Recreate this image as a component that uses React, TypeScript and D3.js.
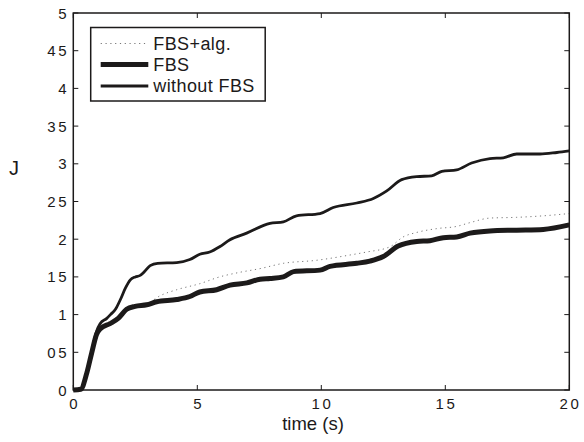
import React from "react";
import * as d3 from "d3";

const xTicks = [0, 5, 10, 15, 20];
const xTickLabels = ["0", "5", "1 0", "1 5", "2 0"];
const yTicks = [0, 0.5, 1, 1.5, 2, 2.5, 3, 3.5, 4, 4.5, 5];
const yTickLabels = ["0", "0 5", "1", "1 5", "2", "2 5", "3", "3 5", "4", "4 5", "5"];

const seriesNames = ["FBS+alg.", "FBS", "without FBS"];

const withoutT = [0, 0.3, 0.54, 0.74, 0.94, 1.08, 1.35, 1.5, 1.7, 1.9, 2.1, 2.3, 2.5, 2.7, 2.9, 3.1, 3.4, 4.17, 4.7, 5.1, 5.5, 5.9, 6.3, 6.99, 7.93, 8.47, 9.0, 9.95, 10.48, 11.43, 12.1, 12.64, 13.24, 13.85, 14.45, 14.86, 15.46, 16.06, 16.8, 17.34, 17.88, 18.82, 19.5, 20];
const withoutJ = [0, 0.01, 0.22, 0.5, 0.78, 0.88, 0.95, 1.0, 1.07, 1.2, 1.35, 1.46, 1.5, 1.52, 1.58, 1.65, 1.68, 1.69, 1.73, 1.8, 1.83, 1.9, 1.99, 2.08, 2.21, 2.23, 2.31, 2.34, 2.42, 2.48, 2.54, 2.64, 2.79, 2.83, 2.84, 2.9, 2.92, 3.01, 3.07, 3.08, 3.13, 3.13, 3.15, 3.17];

const fbsT = [0, 0.3, 0.54, 0.74, 0.94, 1.08, 1.48, 1.81, 2.15, 2.49, 2.96, 3.36, 4.17, 4.7, 5.1, 5.78, 6.32, 7.0, 7.53, 7.93, 8.47, 8.88, 9.95, 10.35, 11.43, 11.96, 12.5, 13.1, 13.85, 14.38, 14.92, 15.46, 16.0, 16.8, 17.88, 18.95, 20];
const fbsJ = [0, 0.01, 0.22, 0.49, 0.74, 0.81, 0.88, 0.95, 1.07, 1.11, 1.13, 1.17, 1.2, 1.24, 1.3, 1.33, 1.39, 1.42, 1.47, 1.48, 1.5, 1.57, 1.59, 1.64, 1.68, 1.71, 1.77, 1.91, 1.97, 1.98, 2.02, 2.03, 2.08, 2.11, 2.12, 2.13, 2.19];

const algT = [0, 0.3, 0.54, 0.74, 0.94, 1.08, 1.48, 1.81, 2.15, 2.49, 2.96, 3.5, 4.17, 5.1, 5.9, 6.7, 7.53, 8.47, 9.8, 11.15, 11.83, 12.77, 13.3, 13.85, 14.65, 15.46, 16.0, 16.8, 17.88, 18.95, 20];
const algJ = [0, 0.01, 0.22, 0.49, 0.74, 0.81, 0.88, 0.95, 1.07, 1.11, 1.14, 1.25, 1.33, 1.41, 1.5, 1.56, 1.61, 1.68, 1.72, 1.79, 1.83, 1.9, 2.03, 2.09, 2.14, 2.17, 2.22, 2.28, 2.29, 2.31, 2.34];

const W = 584;
const H = 442;
const left = 73.3;
const right = 569.3;
const top = 13;
const bottom = 390;
const font = "'Liberation Sans', Arial, Helvetica, sans-serif";
const ink = "#1c1a1a";

export default function App() {
  const x = d3.scaleLinear().domain([0, 20]).range([left, right]);
  const y = d3.scaleLinear().domain([0, 5]).range([bottom, top]);
  const line = (ts: number[], js: number[]) =>
    d3
      .line<number>()
      .x((_, i) => x(ts[i]))
      .y((d) => y(d))
      .curve(d3.curveMonotoneX)(js) || "";

  const legendX = 90.7;
  const legendY = 27.5;
  const legendW = 174.5;
  const legendH = 73.5;
  const rows = [43.5, 64.5, 86];
  const styles = [
    { w: 1, dash: "1.2,3.6", color: "#777" },
    { w: 5, dash: "", color: ink },
    { w: 2.8, dash: "", color: ink },
  ];

  return (
    <svg width={W} height={H} style={{ position: "absolute", left: 0, top: 0, background: "#fff" }}>
      <rect x={0} y={0} width={W} height={H} fill="#fff" />
      {/* series */}
      <path d={line(algT, algJ)} fill="none" stroke="#777" strokeWidth={1} strokeDasharray="1.2,3.6" />
      <path d={line(withoutT, withoutJ)} fill="none" stroke={ink} strokeWidth={2.8} strokeLinejoin="round" />
      <path d={line(fbsT, fbsJ)} fill="none" stroke={ink} strokeWidth={5} strokeLinejoin="round" />
      {/* axes box */}
      <rect x={left} y={top} width={right - left} height={bottom - top} fill="none" stroke={ink} strokeWidth={1.5} />
      {xTicks.map((t, i) => (
        <g key={"x" + i}>
          <line x1={x(t)} x2={x(t)} y1={bottom} y2={bottom - 5} stroke={ink} strokeWidth={1} />
          <line x1={x(t)} x2={x(t)} y1={top} y2={top + 5} stroke={ink} strokeWidth={1} />
          <text x={x(t)} y={409} textAnchor="middle" fontFamily={font} fontSize={15} fill={ink} wordSpacing={-1.5}>
            {xTickLabels[i]}
          </text>
        </g>
      ))}
      {yTicks.map((t, i) => (
        <g key={"y" + i}>
          <line x1={left} x2={left + 5} y1={y(t)} y2={y(t)} stroke={ink} strokeWidth={1} />
          <line x1={right} x2={right - 5} y1={y(t)} y2={y(t)} stroke={ink} strokeWidth={1} />
          <text x={66.5} y={y(t) + 5.5} textAnchor="end" fontFamily={font} fontSize={15} fill={ink} wordSpacing={-1.5}>
            {yTickLabels[i]}
          </text>
        </g>
      ))}
      <text x={313} y={430} textAnchor="middle" fontFamily={font} fontSize={18.5} fill={ink}>
        time (s)
      </text>
      <text x={14} y={175} textAnchor="middle" fontFamily={font} fontSize={20} fill={ink}>
        J
      </text>
      {/* legend */}
      <rect x={legendX} y={legendY} width={legendW} height={legendH} fill="#fff" stroke={ink} strokeWidth={1.5} />
      {seriesNames.map((name, i) => (
        <g key={name}>
          <line
            x1={100.7}
            x2={148.3}
            y1={rows[i]}
            y2={rows[i]}
            stroke={styles[i].color}
            strokeWidth={styles[i].w}
            strokeDasharray={styles[i].dash || undefined}
          />
          <text x={153.3} y={rows[i] + 6.3} fontFamily={font} fontSize={18} fill={ink} letterSpacing={0.4}>
            {name}
          </text>
        </g>
      ))}
    </svg>
  );
}
